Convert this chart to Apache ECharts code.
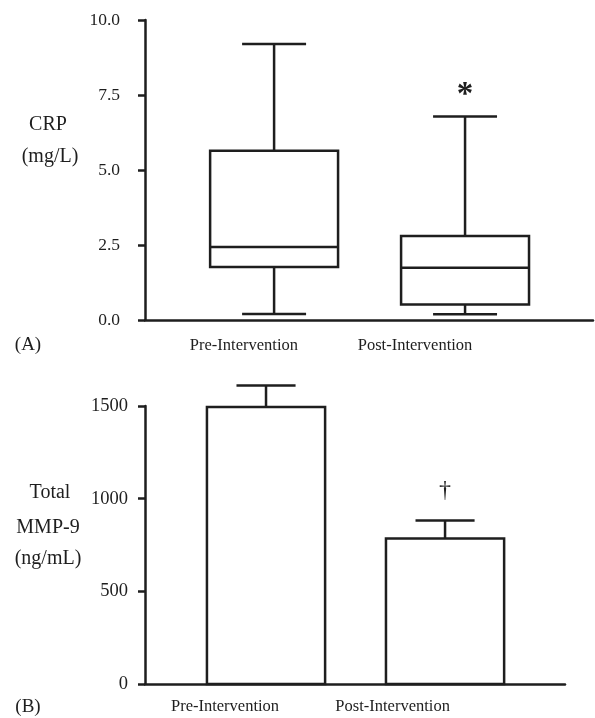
<!DOCTYPE html>
<html>
<head>
<meta charset="utf-8">
<script src="https://cdn.jsdelivr.net/npm/echarts@6/dist/echarts.min.js"></script>
<style>html,body{margin:0;padding:0;background:#fff;}#c{width:595px;height:718px;}</style>
</head>
<body>
<div id="c"></div>
<script>
// ---- data ----
const categories = ['Pre-Intervention', 'Post-Intervention'];
// Panel A: CRP (mg/L) box plot
const crpMin    = [0.20, 0.19];
const crpQ1     = [1.77, 0.52];
const crpMedian = [2.43, 1.74];
const crpQ3     = [5.64, 2.80];
const crpMax    = [9.20, 6.78];
const crpMarks  = ['', '*'];
const crpTicks  = [0, 2.5, 5, 7.5, 10];
// Panel B: Total MMP-9 (ng/mL) mean + error
const mmpMean   = [1495, 785];
const mmpErr    = [115, 97];
const mmpMarks  = ['', '\u2020'];
const mmpTicks  = [0, 500, 1000, 1500];

// ---- layout / style ----
const FONT = '"Liberation Serif", "Times New Roman", serif';
const INK = '#1e1e1e';
const LW = 2.5;
const BOX_W = 0.67, CAP_W = 0.335;
const BAR_W = 0.66, ECAP_W = 0.33;
const X_MIN = 0.324, X_MAX = 2.67;
const labelPosA = [0.842, 1.738];
const labelPosB = [0.771, 1.707];

const boxData = categories.map((c, i) => [i + 1, crpMin[i], crpQ1[i], crpMedian[i], crpQ3[i], crpMax[i], i]);
const barData = categories.map((c, i) => [i + 1, mmpMean[i], mmpErr[i], i]);

function line(p1, p2) {
  return { type: 'line', shape: { x1: p1[0], y1: p1[1], x2: p2[0], y2: p2[1] },
           style: { stroke: INK, lineWidth: LW } };
}

function renderBox(params, api) {
  const x = api.value(0);
  const mn = api.value(1), q1 = api.value(2), md = api.value(3), q3 = api.value(4), mx = api.value(5);
  const idx = api.value(6);
  const c = (xv, yv) => api.coord([xv, yv]);
  const hb = BOX_W / 2, hc = CAP_W / 2;
  const tl = c(x - hb, q3), br = c(x + hb, q1);
  const children = [
    { type: 'rect', shape: { x: tl[0], y: tl[1], width: br[0] - tl[0], height: br[1] - tl[1] },
      style: { fill: '#fff', stroke: INK, lineWidth: LW } },
    line(c(x - hb, md), c(x + hb, md)),
    line(c(x, q3), c(x, mx)),
    line(c(x - hc, mx), c(x + hc, mx)),
    line(c(x, q1), c(x, mn)),
    line(c(x - hc, mn), c(x + hc, mn))
  ];
  const mark = crpMarks[idx];
  if (mark) {
    const p = c(x, mx);
    children.push({ type: 'text', style: { text: mark, x: p[0], y: p[1] - 21, align: 'center', verticalAlign: 'middle',
      font: 'bold 33px ' + FONT, fill: INK } });
  }
  return { type: 'group', children };
}

function renderBar(params, api) {
  const x = api.value(0), m = api.value(1), e = api.value(2), idx = api.value(3);
  const c = (xv, yv) => api.coord([xv, yv]);
  const hb = BAR_W / 2, hc = ECAP_W / 2;
  const tl = c(x - hb, m), br = c(x + hb, 0);
  const children = [
    line(c(x, m), c(x, m + e)),
    line(c(x - hc, m + e), c(x + hc, m + e)),
    { type: 'rect', shape: { x: tl[0], y: tl[1], width: br[0] - tl[0], height: br[1] - tl[1] },
      style: { fill: '#fff', stroke: INK, lineWidth: LW } }
  ];
  const mark = mmpMarks[idx];
  if (mark) {
    const p = c(x, m + e);
    children.push({ type: 'text', style: { text: mark, x: p[0], y: p[1] - 30, align: 'center', verticalAlign: 'middle',
      font: '24px ' + FONT, fill: INK } });
  }
  return { type: 'group', children };
}

function xAxisCfg(gridIndex, pos, margin) {
  return {
    type: 'value', gridIndex, min: X_MIN, max: X_MAX,
    splitLine: { show: false },
    axisLine: { show: true, lineStyle: { color: INK, width: LW } },
    axisTick: { show: false },
    axisLabel: {
      customValues: pos, margin,
      formatter: v => { const k = pos.findIndex(p => Math.abs(p - v) < 1e-6); return k >= 0 ? categories[k] : ''; },
      fontFamily: FONT, fontSize: 16.5, color: INK
    }
  };
}

const chart = echarts.init(document.getElementById('c'), null, { renderer: 'canvas' });
chart.setOption({
  animation: false,
  backgroundColor: '#fff',
  grid: [
    { left: 145, top: 20, width: 448, height: 300 },
    { left: 145, top: 406, width: 420, height: 278 }
  ],
  xAxis: [ xAxisCfg(0, labelPosA, 17), xAxisCfg(1, labelPosB, 14) ],
  yAxis: [
    { type: 'value', gridIndex: 0, min: 0, max: 10, interval: 2.5,
      splitLine: { show: false },
      axisLine: { show: true, lineStyle: { color: INK, width: LW } },
      axisTick: { show: true, length: 7, lineStyle: { color: INK, width: LW } },
      axisLabel: { customValues: crpTicks, formatter: v => v.toFixed(1), margin: 25, fontFamily: FONT, fontSize: 17.5, color: INK } },
    { type: 'value', gridIndex: 1, min: 0, max: 1500, interval: 500,
      splitLine: { show: false },
      axisLine: { show: true, lineStyle: { color: INK, width: LW } },
      axisTick: { show: true, length: 7, lineStyle: { color: INK, width: LW } },
      axisLabel: { customValues: mmpTicks, formatter: v => String(v), margin: 17, fontFamily: FONT, fontSize: 18.5, color: INK } }
  ],
  series: [
    { type: 'custom', xAxisIndex: 0, yAxisIndex: 0, clip: false, renderItem: renderBox, data: boxData,
      encode: { x: 0, y: [1, 5] } },
    { type: 'custom', xAxisIndex: 1, yAxisIndex: 1, clip: false, renderItem: renderBar, data: barData,
      encode: { x: 0, y: 1 } }
  ],
  graphic: [
    { type: 'text', x: 48, y: 125, style: { text: 'CRP', font: '20px ' + FONT, fill: INK, align: 'center', verticalAlign: 'middle' } },
    { type: 'text', x: 50, y: 157, style: { text: '(mg/L)', font: '20px ' + FONT, fill: INK, align: 'center', verticalAlign: 'middle' } },
    { type: 'text', x: 50, y: 493, style: { text: 'Total', font: '20px ' + FONT, fill: INK, align: 'center', verticalAlign: 'middle' } },
    { type: 'text', x: 48, y: 528, style: { text: 'MMP-9', font: '20px ' + FONT, fill: INK, align: 'center', verticalAlign: 'middle' } },
    { type: 'text', x: 48, y: 559, style: { text: '(ng/mL)', font: '20px ' + FONT, fill: INK, align: 'center', verticalAlign: 'middle' } },
    { type: 'text', x: 28, y: 345, style: { text: '(A)', font: '19px ' + FONT, fill: INK, align: 'center', verticalAlign: 'middle' } },
    { type: 'text', x: 28, y: 707, style: { text: '(B)', font: '19px ' + FONT, fill: INK, align: 'center', verticalAlign: 'middle' } }
  ]
});
</script>
</body>
</html>
